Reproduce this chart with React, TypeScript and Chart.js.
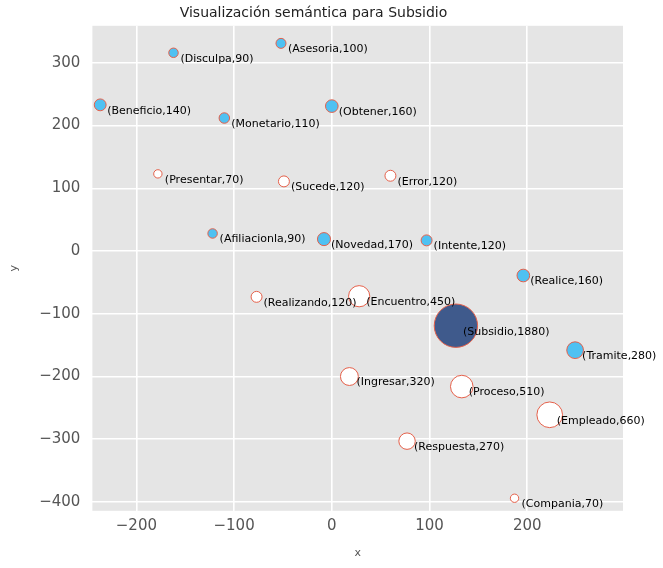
import React, { useRef, useEffect } from "react";
import Chart from "chart.js/auto";

const words = ["Disculpa", "Asesoria", "Beneficio", "Monetario", "Obtener", "Presentar", "Sucede", "Error", "Afiliacionla", "Novedad", "Intente", "Realice", "Realizando", "Encuentro", "Subsidio", "Tramite", "Ingresar", "Proceso", "Empleado", "Respuesta", "Compania"];
const counts = [90, 100, 140, 110, 160, 70, 120, 120, 90, 170, 120, 160, 120, 450, 1880, 280, 320, 510, 660, 270, 70];
const xs = [-162, -52, -237, -110, 0, -178, -49, 60, -122, -8, 97, 196, -77, 28, 127, 249, 18, 133, 223, 77, 187];
const ys = [316, 331, 233, 212, 231, 123, 111, 120, 28, 19, 17, -39, -73, -72, -119, -158, -200, -216, -261, -303, -394];
const filled = ["Disculpa", "Asesoria", "Beneficio", "Monetario", "Obtener", "Afiliacionla", "Novedad", "Intente", "Realice", "Tramite"];
const target = "Subsidio";
const xTicks = [-200, -100, 0, 100, 200];
const yTicks = [-400, -300, -200, -100, 0, 100, 200, 300];

const bgPlugin = {
  id: "bg",
  beforeDraw(chart: any) {
    const { ctx, chartArea: a } = chart;
    ctx.save();
    ctx.fillStyle = "#e5e5e5";
    ctx.fillRect(a.left, a.top, a.right - a.left, a.bottom - a.top);
    ctx.restore();
  },
};

const labelPlugin = {
  id: "labels",
  afterDatasetsDraw(chart: any) {
    const { ctx } = chart;
    const meta = chart.getDatasetMeta(0);
    ctx.save();
    ctx.fillStyle = "#000";
    ctx.font = "11px 'DejaVu Sans'";
    ctx.textBaseline = "middle";
    meta.data.forEach((el: any, i: number) => {
      ctx.fillText(`(${words[i]},${counts[i]})`, el.x + 7, el.y + 6);
    });
    ctx.restore();
  },
};

const fmt = (v: any) => String(v).replace("-", "\u2212");

export default function App() {
  const ref = useRef<HTMLCanvasElement>(null);

  useEffect(() => {
    document.body.style.margin = "0";
    if (!ref.current) return;
    const chart = new Chart(ref.current, {
      type: "bubble",
      data: {
        datasets: [
          {
            data: words.map((w, i) => ({ x: xs[i], y: ys[i], r: 0.5 * Math.sqrt(counts[i]) })),
            backgroundColor: words.map((w) => (w === target ? "#3f5a8c" : filled.includes(w) ? "#4fc1f2" : "#ffffff")),
            borderColor: "#e5604a",
            borderWidth: 1,
          },
        ],
      },
      options: {
        animation: false,
        responsive: false,
        layout: { padding: { top: 0, right: 40, left: 4, bottom: 4 } },
        plugins: {
          legend: { display: false },
          tooltip: { enabled: false },
          title: {
            display: true,
            text: "Visualización semántica para Subsidio",
            color: "#222",
            font: { family: "DejaVu Sans", size: 14, weight: "normal" },
            padding: { top: 5, bottom: 4 },
          },
        },
        scales: {
          x: {
            min: -245,
            max: 298,
            afterBuildTicks: (s: any) => { s.ticks = xTicks.map((value) => ({ value })); },
            ticks: { color: "#555", font: { family: "DejaVu Sans", size: 15 }, padding: 6, callback: fmt },
            grid: { color: "#ffffff", lineWidth: 1.6, drawTicks: false },
            border: { display: false },
            title: { display: true, text: "x", color: "#555", font: { family: "DejaVu Sans", size: 11 }, padding: { top: 6 } },
          },
          y: {
            min: -414,
            max: 359,
            afterBuildTicks: (s: any) => { s.ticks = yTicks.map((value) => ({ value })); },
            ticks: { color: "#555", font: { family: "DejaVu Sans", size: 15 }, padding: 12, callback: fmt },
            grid: { color: "#ffffff", lineWidth: 1.6, drawTicks: false },
            border: { display: false },
            title: { display: true, text: "y", color: "#555", font: { family: "DejaVu Sans", size: 11 }, padding: { bottom: 6 } },
          },
        },
      },
      plugins: [bgPlugin, labelPlugin],
    });
    return () => chart.destroy();
  }, []);

  return <canvas ref={ref} width={663} height={568} style={{ display: "block" }} />;
}
